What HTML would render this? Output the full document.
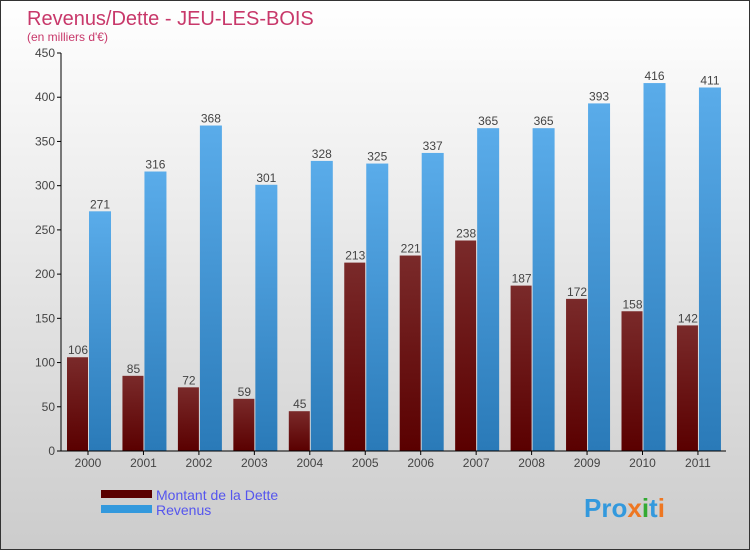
<!DOCTYPE html>
<html><head><meta charset="utf-8"><style>
body{margin:0;width:750px;height:550px;overflow:hidden}
#c{position:absolute;left:0;top:0;width:748px;height:548px;border:1px solid #333;background:linear-gradient(#ffffff,#cccccc)}
text{font-family:"Liberation Sans",sans-serif}
</style></head><body>
<div id="c">
<svg id="s" width="750" height="550" xmlns="http://www.w3.org/2000/svg">
<defs>
<linearGradient id="gr" x1="0" y1="0" x2="0" y2="1"><stop offset="0" stop-color="#7a2a2a"/><stop offset="1" stop-color="#5a0000"/></linearGradient>
<linearGradient id="gb" x1="0" y1="0" x2="0" y2="1"><stop offset="0" stop-color="#5aacea"/><stop offset="1" stop-color="#2a7ab8"/></linearGradient>
</defs>
<text x="26" y="24" font-size="20" fill="#c8386a">Revenus/Dette - JEU-LES-BOIS</text>
<text x="26" y="40" font-size="12" fill="#c8386a">(en milliers d'€)</text>
<g id="g"></g>
<rect x="100" y="489" width="51" height="8" fill="#5a0000"/>
<rect x="100" y="504" width="51" height="8" fill="#3399dd"/>
<text x="155" y="499" font-size="14" fill="#5555ee">Montant de la Dette</text>
<text x="155" y="514" font-size="14" fill="#5555ee">Revenus</text>
<text x="583" y="516" font-size="26" font-weight="bold" fill="#3399dd">Pro<tspan fill="#ee7722">x</tspan><tspan fill="#33aa33">i</tspan>t<tspan fill="#ee7722">i</tspan></text>
</svg></div>
<script>
const years=["2000","2001","2002","2003","2004","2005","2006","2007","2008","2009","2010","2011"];
const dette=[106,85,72,59,45,213,221,238,187,172,158,142];
const revenus=[271,316,368,301,328,325,337,365,365,393,416,411];
const ticks=[0,50,100,150,200,250,300,350,400,450];
const NS="http://www.w3.org/2000/svg";
const g=document.getElementById("g");
const y0=450,yTop=52,max=450;
const y=v=>y0-(v/max)*(y0-yTop);
const x=i=>87+i*55.45;
function mk(t,a){const e=document.createElementNS(NS,t);for(const k in a)e.setAttribute(k,a[k]);g.appendChild(e);return e;}
ticks.forEach(t=>{
 const l=mk("line",{x1:56,x2:60,y1:y(t),y2:y(t),stroke:"#000"});
 
 
 const tx=mk("text",{x:54,y:y(t)+4,"font-size":12,fill:"#444","text-anchor":"end"});tx.textContent=t;
 
 
});
years.forEach((yr,i)=>{
 const c=x(i);
 const r=mk("rect",{x:c-21,y:y(dette[i]),width:21,height:y0-y(dette[i]),fill:"url(#gr)"});
 
 
 const b=mk("rect",{x:c+1,y:y(revenus[i]),width:22,height:y0-y(revenus[i]),fill:"url(#gb)"});
 
 
 const t1=mk("text",{x:c-10,y:y(dette[i])-3,"font-size":12,fill:"#444","text-anchor":"middle"});t1.textContent=dette[i];
 
 
 const t2=mk("text",{x:c+12,y:y(revenus[i])-3,"font-size":12,fill:"#444","text-anchor":"middle"});t2.textContent=revenus[i];
 
 
 const tk=mk("line",{x1:c,x2:c,y1:y0,y2:y0+4,stroke:"#000"});
 
 
 const xl=mk("text",{x:c,y:466,"font-size":12,fill:"#444","text-anchor":"middle"});xl.textContent=yr;
 
 
});
const ax=mk("line",{x1:60,x2:60,y1:yTop,y2:y0,stroke:"#000"});


const bx=mk("line",{x1:60,x2:725,y1:y0,y2:y0,stroke:"#000"});


</script>
</body></html>
